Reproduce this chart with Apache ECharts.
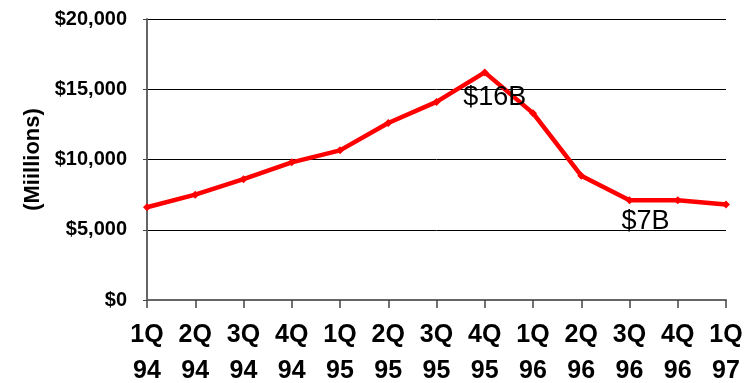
<!DOCTYPE html>
<html>
<head>
<meta charset="utf-8">
<script src="https://cdn.jsdelivr.net/npm/echarts@6/dist/echarts.min.js"></script>
<style>
  html, body { margin: 0; padding: 0; background: #fff; }
  #chart { width: 751px; height: 383px; }
</style>
</head>
<body>
<div id="chart"></div>
<script>
// quarters and revenue (millions)
const quarters = ['1Q\n94', '2Q\n94', '3Q\n94', '4Q\n94', '1Q\n95', '2Q\n95', '3Q\n95',
                  '4Q\n95', '1Q\n96', '2Q\n96', '3Q\n96', '4Q\n96', '1Q\n97'];
const revenue = [6600, 7500, 8600, 9800, 10650, 12600, 14100, 16200, 13300, 8850, 7100, 7100, 6800];
const yTicks = [0, 5000, 10000, 15000, 20000];
// annotated points: index -> text
const notes = { 7: '$16B', 10: '$7B' };

const noteStyle = {
    7: {offset: [10, 25]},
    10: {offset: [16, 21]}
};

const seriesData = revenue.map((v, i) => {
    if (notes[i] === undefined) return v;
    return {
        value: v,
        label: {
            show: true,
            position: 'inside',
            formatter: notes[i],
            offset: noteStyle[i].offset,
            fontFamily: 'Liberation Sans, Arial, sans-serif',
            fontSize: 27,
            color: '#000'
        }
    };
});

const chart = echarts.init(document.getElementById('chart'));
chart.setOption({
    animation: false,
    grid: {left: 147, right: 25, top: 19, bottom: 83, outerBoundsMode: 'none', containLabel: false},
    xAxis: {
        type: 'category',
        data: quarters,
        boundaryGap: false,
        axisLine: {lineStyle: {color: '#666', width: 2}},
        axisTick: {length: 8, lineStyle: {color: '#444', width: 1.5}},
        axisLabel: {
            margin: 17,
            fontFamily: 'Liberation Sans, Arial, sans-serif',
            fontWeight: 'bold',
            fontSize: 25,
            lineHeight: 36,
            color: '#000'
        },
        splitLine: {show: false}
    },
    yAxis: {
        type: 'value',
        min: yTicks[0],
        max: yTicks[yTicks.length - 1],
        interval: 5000,
        name: '(Miillions)',
        nameLocation: 'middle',
        nameGap: 103,
        nameTextStyle: {
            fontFamily: 'Liberation Sans, Arial, sans-serif',
            fontWeight: 'bold',
            fontSize: 22,
            color: '#000'
        },
        axisLine: {show: true, lineStyle: {color: '#666', width: 2}},
        axisTick: {show: true, length: 4, lineStyle: {color: '#444'}},
        axisLabel: {
            margin: 20,
            fontFamily: 'Liberation Sans, Arial, sans-serif',
            fontWeight: 'bold',
            fontSize: 20,
            color: '#000',
            formatter: v => '$' + v.toLocaleString('en-US')
        },
        splitLine: {lineStyle: {color: '#000', width: 1}}
    },
    series: [{
        type: 'line',
        data: seriesData,
        symbol: 'diamond',
        symbolSize: 8,
        lineStyle: {color: '#ff0000', width: 4.5},
        itemStyle: {color: '#ff0000'}
    }]
});
</script>
</body>
</html>
